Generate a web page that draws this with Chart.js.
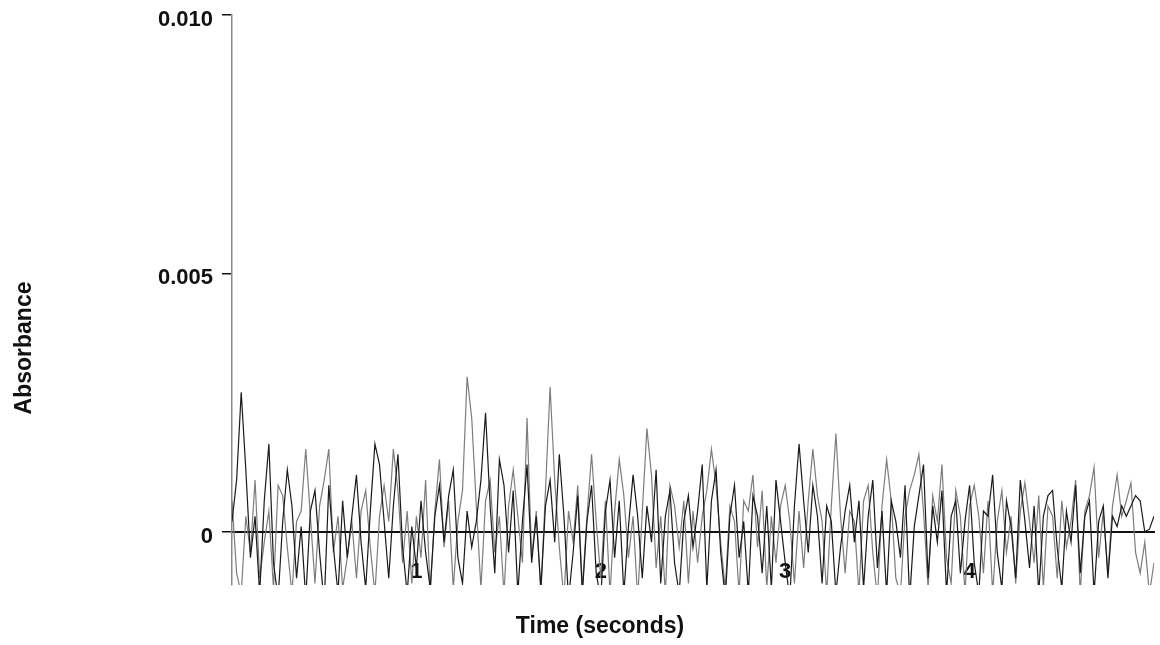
<!DOCTYPE html>
<html>
<head>
<meta charset="utf-8">
<title>Absorbance vs time</title>
<script src="https://cdn.jsdelivr.net/npm/chart.js@4.4.0/dist/chart.umd.min.js"></script>
<style>
  html, body { margin: 0; padding: 0; background: #fff; }
  #wrap { width: 1160px; height: 645px; }
</style>
</head>
<body>
<div id="wrap"><canvas id="chart" width="1160" height="645"></canvas></div>
<script>
// sampling interval of the recording, seconds
const sampleStep = 0.025;

// in units of 0.001 absorbance
const blackTrace = [
  0.2, 1.0, 2.7, 1.2, -0.5, 0.3, -1.2, 0.6, 1.7, -0.6,
  -1.3, 0.2, 1.2, 0.5, -0.9, 0.1, -1.3, 0.4, 0.8, -0.4,
  -1.4, 0.9, -0.3, -1.2, 0.6, -0.5, 0.3, 1.1, -0.2, -1.1,
  0.4, 1.7, 1.3, 0.2, -0.9, 0.5, 1.5, -0.3, -1.2, 0.1,
  -0.7, 0.6, -0.4, -1.1, 0.3, 0.9, -0.2, 0.7, 1.2, -0.5,
  -1.0, 0.4, -0.3, 0.2, 1.0, 2.3, 0.5, -0.8, 1.4, 0.9,
  -0.4, 0.8, -1.2, 0.2, 1.3, -0.6, 0.3, -1.1, 0.5, 1.0,
  -0.2, 1.5, 0.3, -1.3, -0.4, 0.7, -1.2, 0.2, 0.9, -0.8,
  -1.3, 0.4, 1.0, -0.5, 0.6, -1.2, 0.1, 1.1, 0.3, -0.9,
  0.5, -0.2, 1.2, -1.0, 0.3, 0.8, -0.6, -1.2, 0.2, 0.7,
  -0.3, 0.4, 1.3, -1.1, 0.6, 1.2, -0.4, -1.3, 0.3, 0.9,
  -0.5, 0.2, -1.2, 0.7, 0.3, -0.8, 0.5, -1.1, 1.0, 0.2,
  -0.6, -1.3, 0.5, 1.7, 0.6, -0.4, 0.9, 0.3, -1.0, 0.5,
  0.2, -1.2, -0.3, 0.4, 0.9, -0.2, 0.6, -1.1, 0.3, 1.0,
  -0.7, 0.4, -1.2, 0.6, 0.2, -0.5, 0.9, -1.3, 0.1, 0.7,
  1.3, -0.9, 0.5, -0.2, 0.8, -1.2, 0.3, 0.6, -0.8, 0.2,
  0.9, -0.6, -1.2, 0.4, 0.3, 1.1, -0.4, -1.1, 0.6, 0.1,
  -0.9, 1.0, 0.2, -0.7, 0.5, -1.2, 0.3, 0.7, 0.8, -0.3,
  -1.1, 0.4, -0.2, 0.9, -0.8, 0.3, 0.6, -1.2, 0.2, 0.5,
  -0.9, 0.3, 0.1, 0.5, 0.3, 0.5, 0.7, 0.6, 0.0, 0.05, 0.3
];

const grayTrace = [
  0.6, -0.8, -1.2, 0.3, -0.4, 1.0, -0.9, -0.2, 0.4, -1.1,
  0.9, 0.7, -0.3, -1.2, 0.2, 0.4, 1.6, 0.3, -1.0, 0.5,
  1.0, 1.6, -0.4, 0.3, -1.1, -0.5, 0.2, -0.9, 0.4, 0.8,
  -0.3, -1.2, 0.3, 0.9, 0.2, 1.6, 0.8, -0.6, 0.4, -1.0,
  0.3, -0.5, 1.0, -1.2, 0.4, 1.4, -0.3, 0.6, -1.1, 0.2,
  0.8, 3.0, 2.2, 0.5, -1.1, 0.6, 1.0, -0.4, 0.3, -1.2,
  0.5, 1.2, 0.3, -0.6, 2.2, -0.5, 0.4, -1.2, 0.8, 2.8,
  1.0, -0.3, -1.3, 0.4, -0.2, 0.9, -1.1, 0.3, 1.5, 0.2,
  -0.9, 0.6, -1.2, 0.4, 1.4, 0.7, -0.5, 0.3, -1.3, 0.4,
  2.0, 1.1, -0.7, 0.3, -1.2, 0.9, 0.5, -0.3, 0.6, -1.0,
  0.4, -0.6, 0.3, 0.8, 1.6, 0.9, -0.2, -1.1, 0.5, 0.2,
  -1.2, 0.6, 0.4, 1.1, -0.3, 0.8, -1.1, 0.3, -0.6, 0.5,
  0.9, 0.2, -1.0, 0.4, -0.7, 0.6, 1.6, 0.7, 0.2, -1.2,
  0.5, 1.9, 0.3, -0.8, 0.4, 0.2, -1.2, 0.6, 0.9, -0.4,
  -1.3, 0.5, 1.4, 0.6, -0.9, -1.2, 0.3, 0.8, 1.1, 1.5,
  0.4, -1.1, 0.7, 0.2, 1.3, -0.5, -1.0, 0.8, 0.3, -1.2,
  0.5, 0.9, 0.3, -0.8, 0.6, -1.2, 0.2, 0.8, -0.4, 0.3,
  -1.0, 0.4, 0.95, 0.2, -0.6, 0.7, -1.1, 0.5, 0.3, -0.9,
  0.6, -0.3, 0.2, 1.0, -1.2, 0.4, 0.7, 1.25, -0.5, 0.4,
  -0.8, 0.5, 1.1, 0.3, 0.6, 0.95, -0.4, -0.8, -0.2, -1.2, -0.6
];

const timeTicks = [1, 2, 3, 4];
const absTicks = [0, 0.005, 0.010];
const absTickLabels = ['0', '0.005', '0.010'];
const xTitle = 'Time (seconds)';
const yTitle = 'Absorbance';

const toPoints = trace => trace.map((v, i) => ({ x: i * sampleStep, y: v / 1000 }));

const labelFont = { family: '"Liberation Sans", Arial, sans-serif', size: 22, weight: 'bold' };

// axis titles sit off-centre in the original, so they are drawn by hand
const axisTitles = {
  id: 'axisTitles',
  afterDraw(chart) {
    const ctx = chart.ctx;
    ctx.save();
    ctx.fillStyle = '#111';
    ctx.font = 'bold 23px "Liberation Sans", Arial, sans-serif';
    ctx.textAlign = 'center';
    ctx.textBaseline = 'middle';
    ctx.fillText(xTitle, 600, 627);
    ctx.translate(25, 348);
    ctx.rotate(-Math.PI / 2);
    ctx.fillText(yTitle, 0, 0);
    ctx.restore();
  }
};

new Chart(document.getElementById('chart'), {
  type: 'line',
  data: {
    datasets: [
      {
        label: 'trace 1',
        data: toPoints(blackTrace),
        borderColor: '#1a1a1a',
        borderWidth: 1.2,
        pointRadius: 0,
        tension: 0
      },
      {
        label: 'trace 2',
        data: toPoints(grayTrace),
        borderColor: '#7d7d7d',
        borderWidth: 1.2,
        pointRadius: 0,
        tension: 0
      }
    ]
  },
  options: {
    responsive: false,
    animation: false,
    devicePixelRatio: 1,
    layout: { padding: { left: 0, top: 15, right: 6, bottom: 60 } },
    plugins: {
      legend: { display: false },
      tooltip: { enabled: false }
    },
    scales: {
      x: {
        type: 'linear',
        min: 0,
        max: 5,
        position: { y: 0 },
        afterBuildTicks: s => { s.ticks = timeTicks.map(v => ({ value: v })); },
        border: { display: true, color: '#111', width: 2 },
        grid: { display: false, drawTicks: false },
        ticks: { padding: 27, color: '#111', font: labelFont, callback: v => String(v) }
      },
      y: {
        type: 'linear',
        min: -0.00103,
        max: 0.010,
        afterBuildTicks: s => { s.ticks = absTicks.map(v => ({ value: v })); },
        afterFit: s => {
          s.width = 232;
          // labels may overhang the plot, don't let them push the top down
          s.paddingTop = 0;
          s.paddingBottom = 0;
        },
        border: { display: true, color: '#8a8a8a', width: 1.5 },
        grid: { drawOnChartArea: false, drawTicks: true, tickLength: 10, color: '#111', lineWidth: 1.5 },
        ticks: {
          padding: 9,
          labelOffset: 5,
          color: '#111',
          font: labelFont,
          callback: (v, i) => absTickLabels[i]
        }
      }
    }
  },
  plugins: [axisTitles]
});
</script>
</body>
</html>
